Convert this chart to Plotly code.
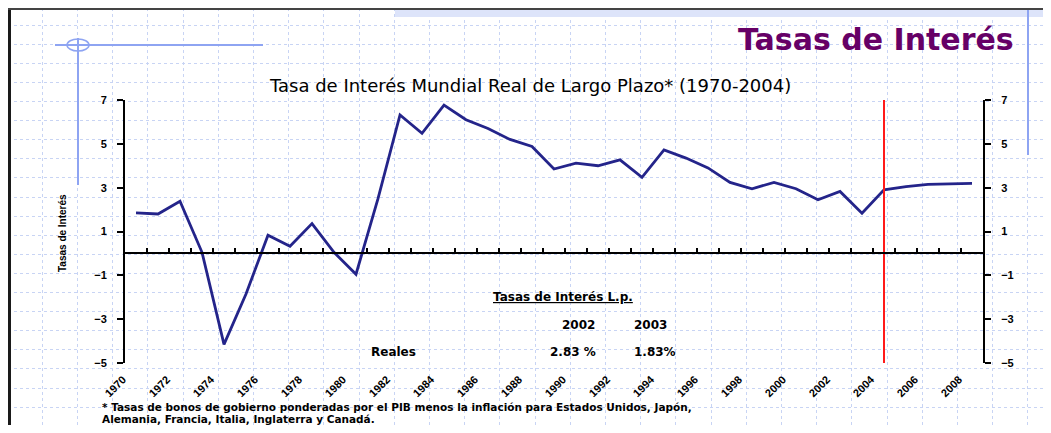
import plotly.graph_objects as go

W, H = 1051, 433
PAD = 8  # page body margin around the figure

# data
years = list(range(1970, 2009))
real_rate = [
    1.85, 1.8, 2.38, 0.05, -4.15, -1.85, 0.83, 0.33, 1.36, 0.05,
    -0.95, 2.5, 6.32, 5.48, 6.77, 6.1, 5.7, 5.2, 4.88, 3.85,
    4.12, 4.0, 4.27, 3.47, 4.72, 4.35, 3.9, 3.24, 2.95, 3.24,
    2.95, 2.45, 2.83, 1.83, 2.9, 3.05, 3.15, 3.17, 3.2,
]
cutoff_year = 2004
y_ticks = [-5, -3, -1, 1, 3, 5, 7]
x_label_years = years[::2]

table_years = ["2002", "2003"]
table_reales = ["2.83 %", "1.83%"]

FW, FH = W - 2 * PAD, H - 2 * PAD


def px_x(v):
    return (v - PAD) / FW


def px_y(v):
    return 1 - (v - PAD) / FH


x_dom = [px_x(125), px_x(983)]
y_dom = [px_y(363), px_y(100)]
zero_pos = y_dom[0] + (y_dom[1] - y_dom[0]) * 5 / 12

fig = go.Figure()

# background slide grid
fig.add_trace(go.Scatter(x=[0], y=[0], mode="none", xaxis="x", yaxis="y",
                         hoverinfo="skip", showlegend=False))

fig.add_trace(go.Scatter(
    x=years, y=real_rate, mode="lines", xaxis="x2", yaxis="y2",
    line=dict(color="#24248a", width=2.8), showlegend=False,
))
fig.add_trace(go.Scatter(
    x=[cutoff_year, cutoff_year], y=[-5, 7], mode="lines", xaxis="x3", yaxis="y3",
    line=dict(color="#ff1a1a", width=2), showlegend=False,
))

tick_font = dict(family="Liberation Sans", size=11, color="black", weight="bold")
bg_grid = dict(showgrid=True, gridcolor="#c8d4f4", griddash="3px,3px", gridwidth=1,
               showticklabels=False, ticks="", zeroline=False, showline=False,
               fixedrange=True, automargin=False)

fig.update_layout(
    width=FW, height=FH,
    margin=dict(l=0, r=0, t=0, b=0, pad=0),
    paper_bgcolor="white",
    plot_bgcolor="rgba(0,0,0,0)",
    showlegend=False,
    xaxis=dict(domain=[0, 1], range=[PAD, W - PAD], tick0=7, dtick=35.2,
               anchor="y", **bg_grid),
    yaxis=dict(domain=[0, 1], range=[H - PAD, PAD], tick0=6, dtick=19.1,
               anchor="x", **bg_grid),
    xaxis2=dict(domain=x_dom, range=[1969.5, 2008.5], anchor="y2",
                tickvals=x_label_years, ticktext=[str(y) for y in x_label_years],
                tickangle=-45, ticks="", showline=False, showgrid=False,
                zeroline=False, automargin=False,
                tickfont=dict(family="Liberation Sans", size=11, color="black",
                              weight="bold"),
                ticklabelshift=-13, ticklabelstandoff=7),
    yaxis2=dict(domain=y_dom, range=[-5, 7], anchor="x2", tickvals=y_ticks,
                ticks="outside", ticklen=6, tickwidth=1.5, tickcolor="black",
                showline=True, linewidth=2, linecolor="black", showgrid=False,
                zeroline=False, tickfont=tick_font, ticklabelstandoff=8,
                automargin=False),
    xaxis3=dict(overlaying="x2", anchor="free", position=zero_pos,
                range=[1969.5, 2008.5], tick0=1969.5, dtick=1, ticks="inside",
                ticklen=5, tickwidth=1.5, tickcolor="black", showline=True,
                linewidth=1.5, linecolor="black", showticklabels=False,
                showgrid=False, zeroline=False, automargin=False),
    yaxis3=dict(overlaying="y2", side="right", anchor="x2", range=[-5, 7],
                tickvals=y_ticks, ticks="outside", ticklen=6, tickwidth=1.5,
                tickcolor="black", showline=True, linewidth=2, linecolor="black",
                showgrid=False, zeroline=False, tickfont=tick_font,
                ticklabelstandoff=8, automargin=False),
)

blue = "#8ea4f2"
shapes = [
    dict(type="rect", x0=px_x(395), x1=1, y0=px_y(17), y1=px_y(10),
         fillcolor="#dde4fa", line=dict(width=0)),
    dict(type="line", x0=px_x(9.5), x1=px_x(9.5), y0=0, y1=px_y(8),
         line=dict(color="#1a1a1a", width=3)),
    dict(type="line", x0=px_x(8), x1=1, y0=px_y(9), y1=px_y(9),
         line=dict(color="#444444", width=2)),
    dict(type="line", x0=px_x(55), x1=px_x(263), y0=px_y(45), y1=px_y(45),
         line=dict(color=blue, width=2)),
    dict(type="circle", x0=px_x(67), x1=px_x(89), y0=px_y(51), y1=px_y(39),
         line=dict(color=blue, width=1.5)),
    dict(type="line", x0=px_x(78), x1=px_x(78), y0=px_y(185), y1=px_y(38),
         line=dict(color=blue, width=2)),
    dict(type="line", x0=px_x(1028), x1=px_x(1028), y0=px_y(155), y1=px_y(10),
         line=dict(color=blue, width=2)),
]
for s in shapes:
    s.update(xref="paper", yref="paper")
fig.update_layout(shapes=shapes)


def note(text, x, y, size=11, family="Liberation Sans", color="black",
         xanchor="center", weight="bold", angle=0):
    fig.add_annotation(text=text, x=px_x(x), y=px_y(y), xref="paper", yref="paper",
                       showarrow=False, xanchor=xanchor, yanchor="middle",
                       textangle=angle,
                       font=dict(family=family, size=size, color=color, weight=weight))


note("Tasas de Interés", 1016, 40, size=30, family="DejaVu Sans", color="#660066",
     xanchor="right")
note("Tasa de Interés Mundial Real de Largo Plazo* (1970-2004)", 530, 86, size=18,
     family="DejaVu Sans", weight="normal")
note("Tasas de Interés", 62, 233, size=10, angle=-90)

note("<u>Tasas de Interés L.p.</u>", 563, 297, size=12, family="DejaVu Sans")
note(table_years[0], 578, 325, size=12, family="DejaVu Sans")
note(table_years[1], 650, 325, size=12, family="DejaVu Sans")
note("Reales", 393, 352, size=12, family="DejaVu Sans")
note(table_reales[0], 573, 352, size=12, family="DejaVu Sans")
note(table_reales[1], 655, 352, size=12, family="DejaVu Sans")

note("* Tasas de bonos de gobierno ponderadas por el PIB menos la inflación para "
     "Estados Unidos, Japón,", 100, 407, size=10.5, family="DejaVu Sans",
     xanchor="left")
note("Alemania, Francia, Italia, Inglaterra y Canadá.", 100, 418.5, size=10.5,
     family="DejaVu Sans", xanchor="left")

fig.write_html("out.html")
